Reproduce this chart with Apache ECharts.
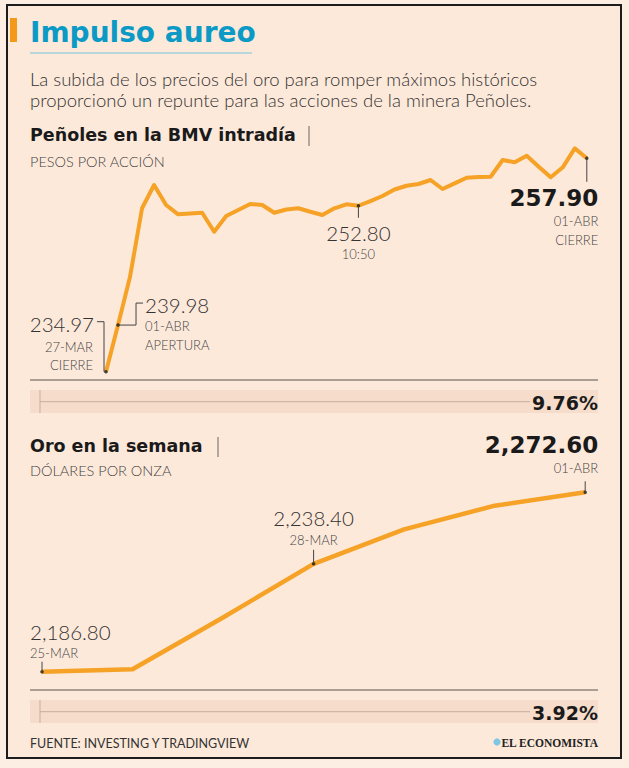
<!DOCTYPE html>
<html><head><meta charset="utf-8">
<script src="https://cdn.jsdelivr.net/npm/echarts/dist/echarts.min.js"></script>
<style>
html,body{margin:0;padding:0;background:#fdeee3;}
#frame{position:absolute;left:6px;top:4px;width:612px;height:751px;border:2.5px solid #1c1c1c;background:#fde9da;}
#c{position:absolute;left:0;top:0;width:629px;height:768px;}
</style>
</head><body><div id="frame"></div><div id="c"></div>
<script>
// ---- Data ----
const penolesCategories = ['27-MAR CIERRE','01-ABR APERTURA','T02','T03','T04','T05','T06','T07','T08','T09',
  'T10','T11','T12','T13','T14','T15','T16','T17','T18','T19','T20','10:50','T22','T23','T24','T25','T26',
  'T27','T28','T29','T30','T31','T32','T33','T34','T35','T36','T37','T38','T39','01-ABR CIERRE'];
const penolesValues = [234.97, 239.98, 245.18, 252.53, 255.03, 252.88, 251.88, 251.97, 252.05, 250.01,
  251.70, 252.34, 252.99, 252.88, 252.05, 252.40, 252.53, 252.16, 251.81, 252.53, 252.96, 252.80, 253.31,
  253.85, 254.55, 254.95, 255.14, 255.57, 254.60, 255.21, 255.81, 255.89, 255.92, 257.72, 257.47, 258.18,
  257.00, 255.86, 256.93, 258.97, 257.90];
const goldCategories = ['25-MAR','26-MAR','27-MAR','28-MAR','29-MAR','31-MAR','01-ABR'];
const goldValues = [2186.80, 2187.95, 2212.70, 2238.40, 2254.90, 2266.20, 2272.60];
const penolesMarked = [0, 1, 21, 40];
const goldMarked = [0, 3, 6];
const penolesChange = '9.76%';
const goldChange = '3.92%';

// ---- Styles ----
const ORANGE = '#f5a227';
const INK = '#1a1a1a';
const GREY = '#3c3c3c';
const LIGHT = '300';
const FF = 'Lato, "Open Sans", sans-serif';
const HEAVY = '"DejaVu Sans", Lato, sans-serif';

const chart = echarts.init(document.getElementById('c'), null, {renderer: 'svg'});

function fmt(v, comma) {
  return comma ? v.toLocaleString('en-US', {minimumFractionDigits: 2, maximumFractionDigits: 2}) : v.toFixed(2);
}

chart.setOption({
  animation: false,
  backgroundColor: 'transparent',
  grid: [
    {left: 106, right: 42.2, top: 148.06, bottom: 387.27},
    {left: 42, right: 43.8, top: 487.28, bottom: 88.35}
  ],
  xAxis: [
    {gridIndex: 0, type: 'category', data: penolesCategories, boundaryGap: false, show: false},
    {gridIndex: 1, type: 'category', data: goldCategories, boundaryGap: false, show: false}
  ],
  yAxis: [
    {gridIndex: 0, type: 'value', min: 234, max: 259, show: false},
    {gridIndex: 1, type: 'value', min: 2183, max: 2275, show: false}
  ],
  series: [
    {type: 'line', xAxisIndex: 0, yAxisIndex: 0, data: penolesValues, symbol: 'none',
      lineStyle: {color: ORANGE, width: 4, join: 'round'}, z: 3},
    {type: 'line', xAxisIndex: 1, yAxisIndex: 1, data: goldValues, symbol: 'none',
      lineStyle: {color: ORANGE, width: 4.5, join: 'round'}, z: 3},
    {type: 'scatter', xAxisIndex: 0, yAxisIndex: 0, symbolSize: 3.5, itemStyle: {color: INK}, z: 5,
      data: penolesMarked.map(i => [i, penolesValues[i]])},
    {type: 'scatter', xAxisIndex: 1, yAxisIndex: 1, symbolSize: 3.5, itemStyle: {color: INK}, z: 5,
      data: goldMarked.map(i => [i, goldValues[i]])}
  ]
});

const g = [];
function txt(text, x, y, font, fill, align) {
  g.push({type: 'text', z: 10, style: {text: text, x: x, y: y, font: font, fill: fill || GREY,
    textAlign: align || 'left', textVerticalAlign: 'middle'}});
}
function line(points, stroke, w) {
  g.push({type: 'polyline', z: 8, shape: {points: points}, style: {stroke: stroke || '#333', lineWidth: w || 1, fill: null}});
}
function rect(x, y, w, h, fill) {
  g.push({type: 'rect', z: 1, shape: {x: x, y: y, width: w, height: h}, style: {fill: fill}});
}

// header
rect(10, 18, 7, 24, '#f39a1d');
txt('Impulso aureo', 30, 32, 'bold 28px ' + HEAVY, '#0b9ac6');
line([[30, 53], [252, 53]], '#9fd0dd', 1.5);
txt('La subida de los precios del oro para romper máximos históricos', 30, 79, LIGHT + ' 18.5px ' + FF, '#333');
txt('proporcionó un repunte para las acciones de la minera Peñoles.', 30, 100, LIGHT + ' 18.5px ' + FF, '#333');

// chart 1 headings
txt('Peñoles en la BMV intradía', 30, 135, 'bold 17.5px ' + HEAVY, INK);
line([[309, 126], [309, 146]], '#666', 1);
txt('PESOS POR ACCIÓN', 30, 161.5, LIGHT + ' 14.5px ' + FF, '#444');

// baseline + change band 1
line([[30, 380], [598, 380]], '#8e847d', 1.5);
rect(30, 390, 568, 23, '#f6dccb');
line([[40, 401.7], [530, 401.7]], '#c5ad9d', 1);
line([[40, 390], [40, 413]], '#c5ad9d', 1);
txt(penolesChange, 598, 402.5, 'bold 19px ' + HEAVY, INK, 'right');

// chart 2 headings
txt('Oro en la semana', 30, 446, 'bold 17.5px ' + HEAVY, INK);
line([[218, 437], [218, 457]], '#666', 1);
txt('DÓLARES POR ONZA', 30, 470, LIGHT + ' 14.5px ' + FF, '#444');

// baseline + change band 2
line([[30, 690], [598, 690]], '#8e847d', 1.5);
rect(30, 700, 568, 23, '#f6dccb');
line([[40, 711.7], [530, 711.7]], '#c5ad9d', 1);
line([[40, 700], [40, 723]], '#c5ad9d', 1);
txt(goldChange, 598, 712.5, 'bold 19px ' + HEAVY, INK, 'right');

// footer
txt('FUENTE: INVESTING Y TRADINGVIEW', 30, 743, '400 12.5px ' + FF, '#333');
g.push({type: 'circle', z: 10, shape: {cx: 497, cy: 742, r: 3.6}, style: {fill: '#7fc6e4'}});
txt('EL ECONOMISTA', 598, 742.5, 'bold 11.5px "Liberation Serif", serif', '#222', 'right');

// annotations from data positions
const P = (gi, i, v) => chart.convertToPixel({gridIndex: gi}, [i, v]);
const VAL = LIGHT + ' 20.5px ' + FF;
const SUB = LIGHT + ' 13px ' + FF;

// Peñoles 27-MAR close
let p = P(0, 0, penolesValues[0]);
line([[p[0], p[1]], [p[0] - 2, p[1]], [p[0] - 2, p[1] - 50], [p[0] - 9, p[1] - 50]], '#444', 1);
txt(fmt(penolesValues[0]), p[0] - 12, p[1] - 48, VAL, '#333', 'right');
txt('27-MAR', p[0] - 13, p[1] - 25, SUB, '#444', 'right');
txt('CIERRE', p[0] - 13, p[1] - 6.5, SUB, '#444', 'right');

// Peñoles 01-ABR open
p = P(0, 1, penolesValues[1]);
line([[p[0], p[1]], [p[0] + 18, p[1]], [p[0] + 18, p[1] - 22], [p[0] + 25, p[1] - 22]], '#444', 1);
txt(fmt(penolesValues[1]), p[0] + 27, p[1] - 20, VAL, '#333', 'left');
txt('01-ABR', p[0] + 27, p[1] + 1, SUB, '#444', 'left');
txt('APERTURA', p[0] + 27, p[1] + 19.5, SUB, '#444', 'left');

// Peñoles 10:50
p = P(0, 21, penolesValues[21]);
line([[p[0], p[1]], [p[0], p[1] + 12]], '#444', 1);
txt(fmt(penolesValues[21]), p[0], p[1] + 27, VAL, '#333', 'center');
txt('10:50', p[0], p[1] + 48, SUB, '#444', 'center');

// Peñoles close
p = P(0, 40, penolesValues[40]);
line([[p[0], p[1]], [p[0], p[1] + 23.5]], '#444', 1);
txt(fmt(penolesValues[40]), p[0] + 11.5, p[1] + 40, 'bold 23px ' + HEAVY, INK, 'right');
txt('01-ABR', p[0] + 11.5, p[1] + 62.5, SUB, '#444', 'right');
txt('CIERRE', p[0] + 11.5, p[1] + 82, SUB, '#444', 'right');

// Gold 25-MAR
p = P(1, 0, goldValues[0]);
line([[p[0], p[1]], [p[0], p[1] - 10]], '#444', 1);
txt(fmt(goldValues[0], true), p[0] - 12, p[1] - 40, VAL, '#333', 'left');
txt('25-MAR', p[0] - 12, p[1] - 19, SUB, '#444', 'left');

// Gold 28-MAR
p = P(1, 3, goldValues[3]);
line([[p[0], p[1]], [p[0], p[1] - 14]], '#444', 1);
txt(fmt(goldValues[3], true), p[0], p[1] - 46, VAL, '#333', 'center');
txt('28-MAR', p[0], p[1] - 24, SUB, '#444', 'center');

// Gold 01-ABR
p = P(1, 6, goldValues[6]);
line([[p[0], p[1]], [p[0], p[1] - 11]], '#444', 1);
txt('01-ABR', p[0] + 13, p[1] - 24, SUB, '#444', 'right');
txt(fmt(goldValues[6], true), p[0] + 13, p[1] - 47, 'bold 23px ' + HEAVY, INK, 'right');

chart.setOption({graphic: {elements: g}});
</script>
</body></html>
